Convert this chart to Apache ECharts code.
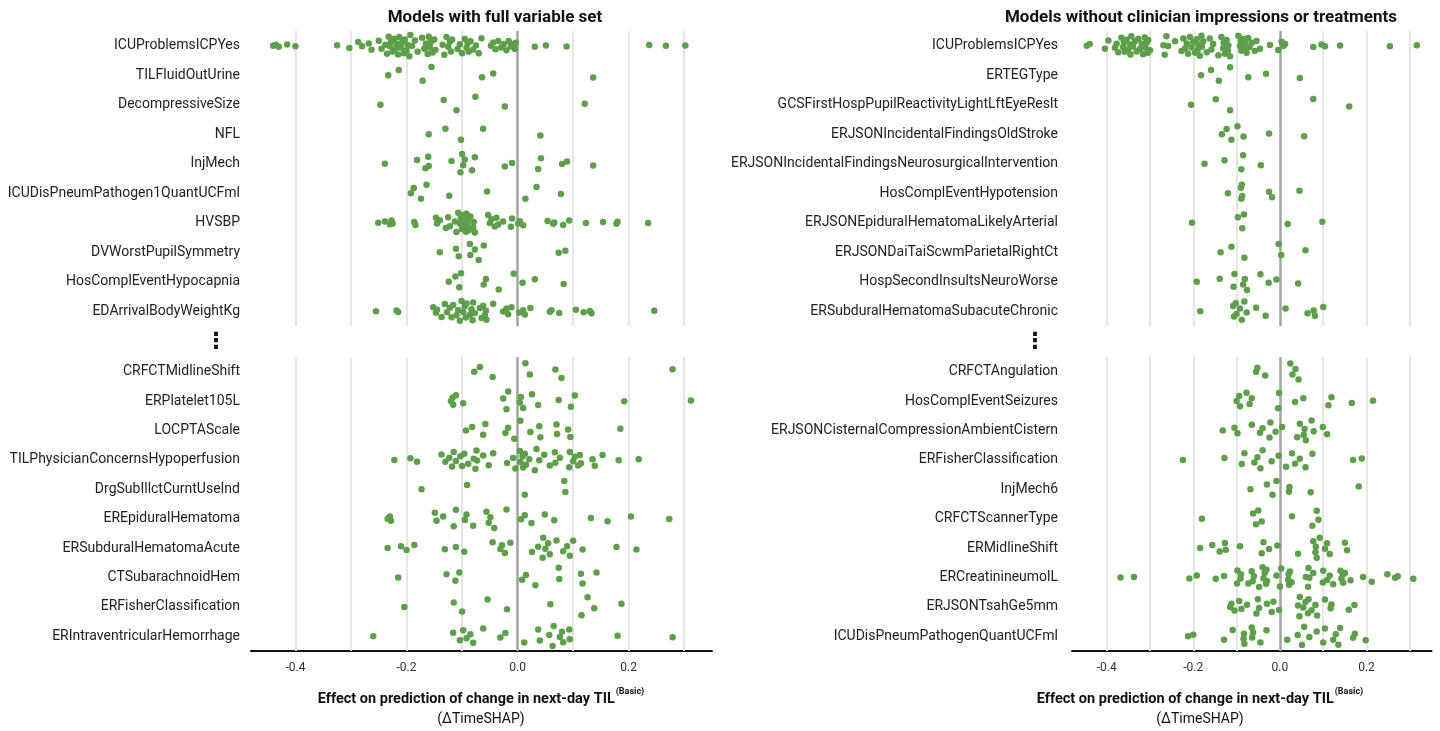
<!DOCTYPE html>
<html><head><meta charset="utf-8">
<script src="https://cdn.jsdelivr.net/npm/echarts@6/dist/echarts.min.js"></script>
<style>html,body{margin:0;padding:0;background:#fff}#c{width:1440px;height:731px}</style>
</head><body><div id="c"></div>
<script>
// ---------- DATA ----------
const leftTitle = 'Models with full variable set';
const rightTitle = 'Models without clinician impressions or treatments';
const axisTitleMain = 'Effect on prediction of change in next-day TIL';
const axisTitleSup = '(Basic)';
const axisTitleSub = '(\u0394TimeSHAP)';
const tickLabels = [-0.4, -0.2, 0.0, 0.2];
const gridTicks = [-0.4, -0.3, -0.2, -0.1, 0.1, 0.2, 0.3];

const leftTopCats = ['ICUProblemsICPYes','TILFluidOutUrine','DecompressiveSize','NFL','InjMech','ICUDisPneumPathogen1QuantUCFml','HVSBP','DVWorstPupilSymmetry','HosComplEventHypocapnia','EDArrivalBodyWeightKg'];
const leftBottomCats = ['CRFCTMidlineShift','ERPlatelet105L','LOCPTAScale','TILPhysicianConcernsHypoperfusion','DrgSubIllctCurntUseInd','EREpiduralHematoma','ERSubduralHematomaAcute','CTSubarachnoidHem','ERFisherClassification','ERIntraventricularHemorrhage'];
const rightTopCats = ['ICUProblemsICPYes','ERTEGType','GCSFirstHospPupilReactivityLightLftEyeReslt','ERJSONIncidentalFindingsOldStroke','ERJSONIncidentalFindingsNeurosurgicalIntervention','HosComplEventHypotension','ERJSONEpiduralHematomaLikelyArterial','ERJSONDaiTaiScwmParietalRightCt','HospSecondInsultsNeuroWorse','ERSubduralHematomaSubacuteChronic'];
const rightBottomCats = ['CRFCTAngulation','HosComplEventSeizures','ERJSONCisternalCompressionAmbientCistern','ERFisherClassification','InjMech6','CRFCTScannerType','ERMidlineShift','ERCreatinineumolL','ERJSONTsahGe5mm','ICUDisPneumPathogenQuantUCFml'];

const leftTopVals = [
 [-0.44,-0.435,-0.43,-0.415,-0.40,-0.325,-0.303,-0.287,-0.28,-0.268,-0.263,-0.25,-0.245,-0.238,-0.235,-0.232,-0.23,-0.228,-0.225,-0.222,-0.22,-0.218,-0.215,-0.213,-0.21,-0.208,-0.205,-0.203,-0.2,-0.198,-0.195,-0.193,-0.19,-0.185,-0.18,-0.172,-0.168,-0.165,-0.162,-0.16,-0.158,-0.156,-0.153,-0.15,-0.148,-0.135,-0.132,-0.128,-0.125,-0.122,-0.12,-0.118,-0.108,-0.104,-0.1,-0.095,-0.092,-0.09,-0.088,-0.085,-0.08,-0.075,-0.07,-0.065,-0.048,-0.044,-0.04,-0.035,-0.03,-0.025,-0.02,-0.016,-0.012,-0.008,-0.005,-0.003,0.031,0.051,0.088,0.237,0.267,0.302],
 [-0.233,-0.214,-0.171,-0.155,-0.064,-0.044,0.136],
 [-0.247,-0.133,-0.110,-0.076,-0.023,0.121],
 [-0.160,-0.130,-0.102,-0.062,0.041],
 [-0.239,-0.181,-0.166,-0.161,-0.160,-0.119,-0.103,-0.100,-0.098,-0.095,-0.082,-0.077,-0.023,-0.010,0.037,0.042,0.080,0.089,0.136],
 [-0.192,-0.187,-0.174,-0.164,-0.123,-0.055,0.014,0.034,0.078],
 [-0.251,-0.239,-0.230,-0.227,-0.225,-0.186,-0.184,-0.147,-0.145,-0.140,-0.129,-0.125,-0.122,-0.113,-0.110,-0.107,-0.104,-0.102,-0.100,-0.098,-0.097,-0.095,-0.093,-0.092,-0.090,-0.089,-0.088,-0.085,-0.080,-0.079,-0.077,-0.053,-0.050,-0.047,-0.041,-0.038,-0.035,-0.026,-0.012,-0.010,0.001,0.004,0.010,0.054,0.064,0.066,0.082,0.093,0.123,0.154,0.178,0.180,0.235],
 [-0.140,-0.111,-0.106,-0.086,-0.085,-0.077,-0.070,-0.061,0.074,0.086],
 [-0.124,-0.112,-0.105,-0.102,-0.061,-0.057,-0.034,-0.007,0.009,0.031,0.083],
 [-0.255,-0.218,-0.215,-0.152,-0.147,-0.145,-0.137,-0.131,-0.127,-0.122,-0.119,-0.116,-0.110,-0.107,-0.104,-0.101,-0.098,-0.095,-0.093,-0.092,-0.086,-0.083,-0.081,-0.080,-0.077,-0.068,-0.065,-0.062,-0.059,-0.057,-0.056,-0.044,-0.026,-0.020,-0.017,-0.011,0.003,0.010,0.013,0.023,0.058,0.061,0.075,0.105,0.119,0.130,0.133,0.246]
];
const leftBottomVals = [
 [-0.078,-0.068,-0.045,0.014,0.022,0.068,0.079,0.279],
 [-0.120,-0.117,-0.116,-0.111,-0.098,-0.026,-0.020,-0.017,0.004,0.006,0.010,0.026,0.037,0.074,0.096,0.103,0.192,0.312],
 [-0.093,-0.082,-0.062,-0.058,-0.022,-0.017,-0.006,0.005,0.023,0.039,0.041,0.070,0.071,0.091,0.095,0.185],
 [-0.222,-0.193,-0.181,-0.137,-0.130,-0.123,-0.118,-0.115,-0.111,-0.103,-0.100,-0.096,-0.089,-0.079,-0.076,-0.074,-0.073,-0.062,-0.052,-0.044,-0.019,-0.008,-0.004,0.004,0.005,0.009,0.010,0.013,0.015,0.021,0.031,0.034,0.039,0.048,0.058,0.067,0.068,0.076,0.093,0.094,0.100,0.103,0.109,0.112,0.114,0.135,0.139,0.153,0.182,0.218],
 [-0.173,-0.091,0.013,0.084,0.086],
 [-0.234,-0.230,-0.228,-0.149,-0.146,-0.134,-0.115,-0.111,-0.095,-0.092,-0.080,-0.056,-0.052,-0.049,-0.042,-0.020,0.006,0.013,0.025,0.049,0.066,0.132,0.162,0.204,0.273],
 [-0.234,-0.210,-0.200,-0.186,-0.131,-0.111,-0.096,-0.045,-0.031,-0.028,-0.023,-0.013,0.026,0.037,0.045,0.046,0.050,0.055,0.058,0.070,0.082,0.089,0.094,0.100,0.117,0.178,0.214],
 [-0.215,-0.128,-0.112,-0.105,0.008,0.015,0.032,0.074,0.075,0.114,0.117,0.142],
 [-0.204,-0.115,-0.100,-0.054,-0.019,0.059,0.115,0.126,0.138,0.187],
 [-0.260,-0.116,-0.104,-0.098,-0.092,-0.085,-0.080,-0.062,-0.031,-0.022,0.012,0.037,0.040,0.057,0.063,0.065,0.076,0.080,0.082,0.093,0.094,0.180,0.279]
];
const rightTopVals = [
 [-0.446,-0.439,-0.404,-0.396,-0.381,-0.377,-0.373,-0.366,-0.362,-0.36,-0.358,-0.354,-0.350,-0.346,-0.345,-0.343,-0.339,-0.335,-0.331,-0.327,-0.323,-0.319,-0.316,-0.312,-0.31,-0.308,-0.305,-0.304,-0.300,-0.269,-0.266,-0.262,-0.258,-0.242,-0.227,-0.223,-0.219,-0.215,-0.212,-0.208,-0.204,-0.2,-0.196,-0.192,-0.19,-0.189,-0.185,-0.181,-0.18,-0.177,-0.169,-0.162,-0.158,-0.154,-0.142,-0.135,-0.131,-0.13,-0.127,-0.123,-0.12,-0.119,-0.115,-0.096,-0.092,-0.09,-0.089,-0.085,-0.081,-0.08,-0.077,-0.073,-0.07,-0.065,-0.058,-0.054,-0.046,-0.023,-0.004,0.004,0.008,0.012,0.077,0.096,0.104,0.139,0.254,0.316],
 [-0.182,-0.159,-0.141,-0.115,-0.073,-0.032,0.046],
 [-0.205,-0.148,-0.115,0.077,0.160],
 [-0.134,-0.123,-0.112,-0.098,-0.084,-0.025,0.056],
 [-0.174,-0.128,-0.089,-0.085,-0.044],
 [-0.120,-0.090,-0.089,-0.088,-0.087,-0.025,-0.018,0.045],
 [-0.203,-0.097,-0.087,-0.083,0.018,0.098],
 [-0.137,-0.112,-0.082,-0.003,0.003,0.059],
 [-0.192,-0.139,-0.107,-0.105,-0.085,-0.081,-0.076,-0.045,-0.026,-0.008,0.042],
 [-0.184,-0.108,-0.106,-0.102,-0.100,-0.092,-0.088,-0.082,-0.077,-0.055,-0.033,0.013,0.064,0.078,0.081,0.100]
];
const rightBottomVals = [
 [-0.055,-0.052,-0.034,0.024,0.029,0.036,0.043],
 [-0.100,-0.094,-0.092,-0.077,-0.070,-0.065,-0.004,-0.002,0.035,0.054,0.112,0.119,0.166,0.215],
 [-0.132,-0.105,-0.098,-0.065,-0.046,-0.040,-0.024,-0.022,-0.010,0.005,0.040,0.046,0.055,0.057,0.060,0.073,0.078,0.099,0.109],
 [-0.224,-0.128,-0.088,-0.082,-0.059,-0.052,-0.045,-0.040,-0.019,-0.003,0.014,0.028,0.035,0.046,0.059,0.075,0.169,0.189],
 [-0.068,-0.030,-0.017,-0.008,0.021,0.022,0.071,0.182],
 [-0.180,-0.062,-0.055,-0.050,-0.042,0.028,0.075,0.085,0.089],
 [-0.184,-0.156,-0.139,-0.127,-0.125,-0.092,-0.042,-0.038,-0.025,-0.006,0.042,0.077,0.082,0.083,0.085,0.092,0.104,0.109,0.115,0.150,0.155],
 [-0.368,-0.337,-0.209,-0.192,-0.148,-0.129,-0.099,-0.098,-0.091,-0.09,-0.073,-0.065,-0.063,-0.060,-0.048,-0.04,-0.038,-0.035,-0.032,-0.031,-0.03,-0.008,0.000,0.003,0.019,0.02,0.021,0.023,0.027,0.060,0.065,0.066,0.068,0.077,0.099,0.1,0.109,0.115,0.123,0.140,0.142,0.145,0.146,0.150,0.163,0.192,0.212,0.248,0.266,0.272,0.308],
 [-0.115,-0.112,-0.105,-0.094,-0.089,-0.076,-0.054,-0.051,-0.048,-0.030,-0.019,-0.015,-0.002,0.042,0.045,0.046,0.054,0.059,0.065,0.066,0.073,0.082,0.086,0.104,0.117,0.119,0.159,0.172],
 [-0.212,-0.200,-0.129,-0.109,-0.084,-0.083,-0.082,-0.065,-0.064,-0.062,-0.045,-0.031,0.017,0.041,0.051,0.056,0.068,0.085,0.100,0.104,0.123,0.129,0.135,0.139,0.169,0.173,0.198]
];

// ---------- LAYOUT / STYLE ----------
const FONT = 'Roboto';
const DOT = '#5d9f4a';
const XMIN = -0.48, XMAX = 0.35;
const SWARM_W = 0.38;

function vdc(n){let v=0,d=1;while(n>0){d*=2;v+=(n%2)/d;n=Math.floor(n/2);}return v;}
function swarm(xs){
  const n=xs.length; if(!n) return [];
  const mean=xs.reduce((a,b)=>a+b,0)/n;
  const sd=Math.sqrt(xs.reduce((a,b)=>a+(b-mean)*(b-mean),0)/Math.max(n-1,1));
  const s=[...xs].sort((a,b)=>a-b);
  const q=p=>{const h=(n-1)*p,lo=Math.floor(h),hi=Math.ceil(h);return s[lo]+(s[hi]-s[lo])*(h-lo);};
  let lo=Math.min(sd,(q(0.75)-q(0.25))/1.34); if(!(lo>0)) lo=sd||0.05;
  const bw=0.9*lo*Math.pow(n,-0.2);
  const dens=xs.map(x=>xs.reduce((a,y)=>a+Math.exp(-0.5*((x-y)/bw)*((x-y)/bw)),0));
  const mx=Math.max(...dens);
  const order=xs.map((x,i)=>i).sort((a,b)=>xs[a]-xs[b]||a-b);
  const rank=new Array(n); order.forEach((idx,r)=>rank[idx]=r+1);
  return xs.map((x,i)=>(vdc(rank[i])-0.5)*2*SWARM_W*dens[i]/mx);
}
function points(vals){
  const out=[];
  vals.forEach((xs,ci)=>{const off=swarm(xs);xs.forEach((x,k)=>out.push([x,ci+0.5+off[k]]));});
  return out;
}

const panels = [
  {cats:leftTopCats, vals:leftTopVals, grid:{left:251, top:31, width:461, height:295}, bottom:false, lm:11},
  {cats:leftBottomCats, vals:leftBottomVals, grid:{left:251, top:357, width:461, height:294}, bottom:true, lm:11},
  {cats:rightTopCats, vals:rightTopVals, grid:{left:1072, top:31, width:359.5, height:295}, bottom:false, lm:14},
  {cats:rightBottomCats, vals:rightBottomVals, grid:{left:1072, top:357, width:359.5, height:294}, bottom:true, lm:14}
];

const grid=[], xAxis=[], yAxis=[], series=[];
panels.forEach((p,i)=>{
  grid.push(Object.assign({containLabel:false}, p.grid));
  xAxis.push({
    type:'value', gridIndex:i, min:XMIN, max:XMAX, splitNumber:8,
    axisLine:{show:p.bottom, onZero:false, lineStyle:{color:'#111', width:2}},
    axisTick:{show:false},
    axisLabel:{show:p.bottom, fontFamily:FONT, fontSize:12, color:'#333', margin:11,
      formatter:v=>tickLabels.some(t=>Math.abs(t-v)<1e-6)?v.toFixed(1):''},
    splitLine:{show:false}
  });
  yAxis.push({
    type:'category', gridIndex:i, data:p.cats, inverse:true,
    axisLine:{show:false}, axisTick:{show:false}, splitLine:{show:false},
    axisLabel:{fontFamily:FONT, fontSize:14, color:'#222', margin:p.lm, interval:0}
  });
  yAxis.push({type:'value', gridIndex:i, min:0, max:10, inverse:true, show:false});
  series.push({
    type:'scatter', xAxisIndex:i, yAxisIndex:2*i+1, z:1, silent:true, symbolSize:0, data:[],
    markLine:{silent:true, symbol:['none','none'], label:{show:false}, animation:false,
      lineStyle:{color:'#e6e6e6', width:2, type:'solid'},
      data:gridTicks.map(t=>({xAxis:t}))}
  });
  series.push({
    type:'scatter', xAxisIndex:i, yAxisIndex:2*i+1, z:2, silent:true, symbolSize:0, data:[],
    markLine:{silent:true, symbol:['none','none'], label:{show:false}, animation:false,
      lineStyle:{color:'#a3a3a3', width:2.5, type:'solid'},
      data:[{xAxis:0}]}
  });
  series.push({
    type:'scatter', xAxisIndex:i, yAxisIndex:2*i+1, z:10, silent:true,
    symbol:'circle', symbolSize:6.5, itemStyle:{color:DOT, opacity:1},
    data:points(p.vals)
  });
});

// text measurement for superscripted axis titles
const mctx=document.createElement('canvas').getContext('2d');
function tw(t,font){mctx.font=font;return mctx.measureText(t).width;}
const mainFont='bold 14.5px '+FONT, supFont='bold 9px '+FONT;
function axisTitle(cx){
  const w1=tw(axisTitleMain,mainFont), w2=tw(axisTitleSup,supFont);
  const x0=cx-(w1+w2+1)/2;
  return [
    {type:'text', x:x0, y:699, style:{text:axisTitleMain, font:mainFont, fill:'#111', textAlign:'left', textVerticalAlign:'middle', align:'left', verticalAlign:'middle'}},
    {type:'text', x:x0+w1+1, y:692, style:{text:axisTitleSup, font:supFont, fill:'#111', textAlign:'left', textVerticalAlign:'middle', align:'left', verticalAlign:'middle'}},
    {type:'text', x:cx, y:719, style:{text:axisTitleSub, font:'14px '+FONT, fill:'#111', textAlign:'center', textVerticalAlign:'middle', align:'center', verticalAlign:'middle'}}
  ];
}
const graphic=[
  {type:'text', x:495, y:18, style:{text:leftTitle, font:'bold 17px '+FONT, fill:'#111', textAlign:'center', textVerticalAlign:'middle', align:'center', verticalAlign:'middle'}},
  {type:'text', x:1201, y:18, style:{text:rightTitle, font:'bold 17px '+FONT, fill:'#111', textAlign:'center', textVerticalAlign:'middle', align:'center', verticalAlign:'middle'}},
  {type:'text', x:216, y:342, style:{text:'\u22EE', font:'bold 22px DejaVu Sans', fill:'#111', textAlign:'center', textVerticalAlign:'middle', align:'center', verticalAlign:'middle'}},
  {type:'text', x:1035, y:342, style:{text:'\u22EE', font:'bold 22px DejaVu Sans', fill:'#111', textAlign:'center', textVerticalAlign:'middle', align:'center', verticalAlign:'middle'}}
].concat(axisTitle(481), axisTitle(1200));

const chart=echarts.init(document.getElementById('c'),null,{renderer:'canvas'});
chart.setOption({animation:false, backgroundColor:'#fff', grid, xAxis, yAxis, series, graphic});
</script></body></html>
